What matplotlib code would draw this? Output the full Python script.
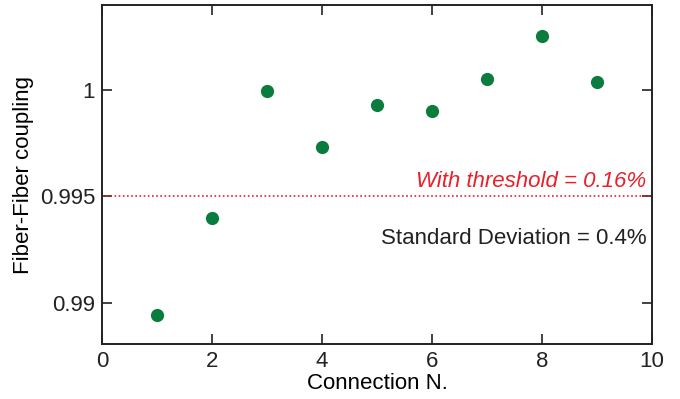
import matplotlib
matplotlib.use("Agg")
import matplotlib.pyplot as plt

connection = [1, 2, 3, 4, 5, 6, 7, 8, 9]
coupling = [0.98939, 0.99396, 0.99998, 0.99731, 0.99929, 0.99904, 1.00053, 1.00254, 1.00039]
threshold = 0.995
x_ticks = [0, 2, 4, 6, 8, 10]
y_ticks = [0.99, 0.995, 1.0]
y_tick_labels = ["0.99", "0.995", "1"]

plt.rc('font', family='Liberation Sans')
plt.rc('font', size=16)

fig = plt.figure(figsize=(6.8, 3.99), dpi=100)
ax = fig.add_axes([0.15, 0.138, 0.809, 0.849])

ax.plot(connection, coupling, 'o', color="#0a7d3e", markersize=9.5, markeredgewidth=0)
ax.axhline(threshold, color="#e8202a", linestyle=(0, (1, 1.5)), linewidth=1.2)

ax.text(9.9, threshold + 0.0002, "With threshold = 0.16%", color="#e8202a",
        style='italic', ha='right', va='bottom')
ax.text(9.9, 0.9930, "Standard Deviation = 0.4%", color="#222222", ha='right', va='center')

ax.set_xlim(0, 10)
ax.set_ylim(0.98805, 1.0040)
ax.set_xticks(x_ticks)
ax.set_yticks(y_ticks)
ax.set_yticklabels(y_tick_labels)
ax.set_xlabel("Connection N.", labelpad=1)
ax.set_ylabel("Fiber-Fiber coupling", labelpad=4)
ax.tick_params(direction="in", length=7, width=1.2, top=True, right=True, colors="#222222", pad=5)
for s in ax.spines.values():
    s.set_linewidth(1.4)
    s.set_color("#222222")

fig.savefig("out.png", dpi=100)
